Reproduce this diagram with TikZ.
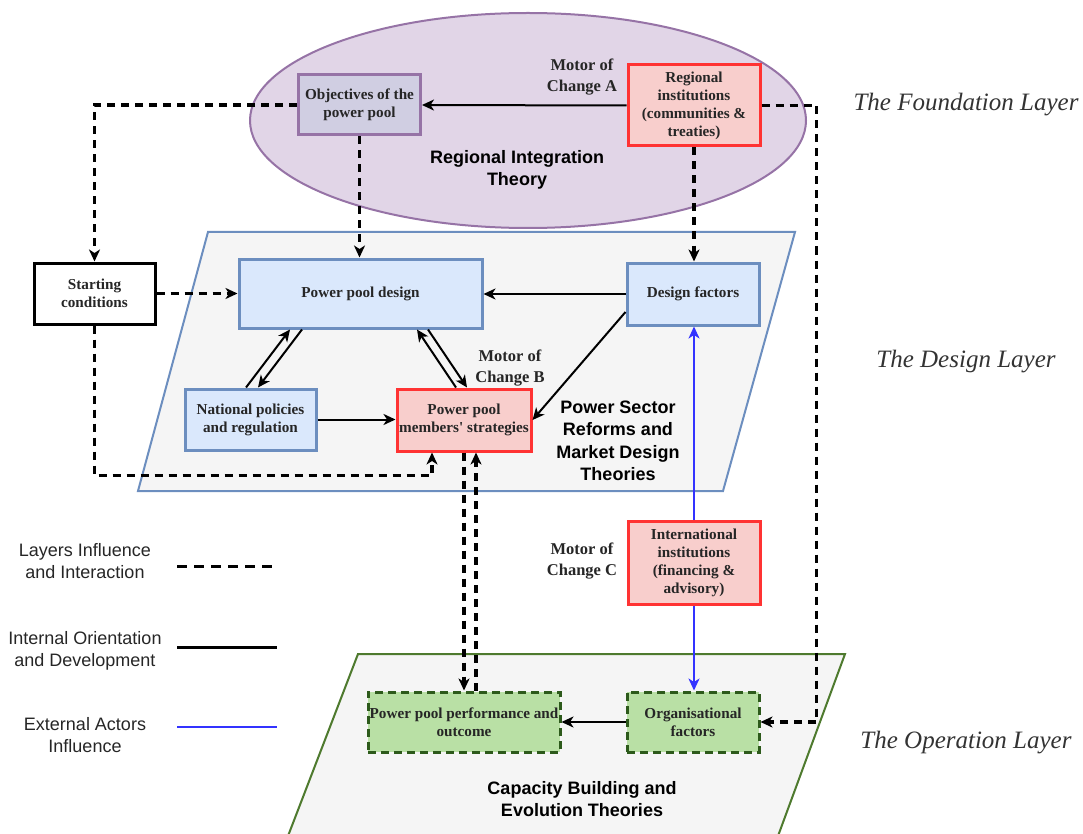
\documentclass[tikz,border=0pt]{standalone}
\usepackage{fontspec}
\setmainfont{Liberation Serif}
\setsansfont{Liberation Sans}
\usetikzlibrary{arrows.meta,calc,shapes.geometric}
\definecolor{purpfill}{HTML}{E1D5E7}
\definecolor{purpdraw}{HTML}{9673A6}
\definecolor{objfill}{HTML}{D0CEE2}
\definecolor{bluefill}{HTML}{DAE8FC}
\definecolor{bluedraw}{HTML}{6C8EBF}
\definecolor{redfill}{HTML}{F8CECC}
\definecolor{reddraw}{HTML}{FF3333}
\definecolor{greenfill}{HTML}{B9E0A5}
\definecolor{greendraw}{HTML}{2D5A1B}
\definecolor{layerfill}{HTML}{F5F5F5}
\definecolor{opdraw}{HTML}{4E7A2E}
\definecolor{extblue}{HTML}{3333FF}
\tikzset{
  box/.style={draw, line width=3pt, inner sep=1pt, align=center,
    font=\bfseries\fontsize{15.2}{18}\selectfont, text=black!85},
  bluebox/.style={box, fill=bluefill, draw=bluedraw},
  redbox/.style={box, fill=redfill, draw=reddraw},
  greenbox/.style={box, fill=greenfill, draw=greendraw, dash pattern=on 8pt off 5pt},
  conn/.style={line width=2pt, -{Stealth[length=12pt,width=11pt,inset=3.5pt]}},
  dconn/.style={conn, line width=3.2pt, dash pattern=on 8pt off 6pt},
  bconn/.style={conn, line width=1.8pt, draw=extblue, -{Stealth[length=12pt,width=11pt,inset=3.5pt,fill=extblue]}},
  theory/.style={font=\sffamily\bfseries\fontsize{18}{22.5}\selectfont, align=center},
  motor/.style={font=\bfseries\fontsize{16.5}{21.5}\selectfont, align=center, text=black!85},
  layerlab/.style={font=\itshape\fontsize{25}{30}\selectfont, text=black!80},
  legendtxt/.style={font=\sffamily\fontsize{18}{22.5}\selectfont, align=center, text=black!85},
}
\begin{document}
\begin{tikzpicture}[x=1pt,y=-1pt]
\useasboundingbox (0,0) rectangle (1083,834);
% layers
\draw[fill=purpfill, draw=purpdraw, line width=2pt] (528,120.5) ellipse [x radius=278pt, y radius=107.5pt];
\draw[fill=layerfill, draw=bluedraw, line width=2pt] (208,232) -- (795,232) -- (723,491) -- (138,491) -- cycle;
\draw[fill=layerfill, draw=opdraw, line width=2pt] (358,654) -- (845,654) -- (778,836) -- (288,836) -- cycle;

% theory labels
\node[theory] (rit) at (517,170) {Regional Integration\\Theory};
\node[theory] (psr) at (618,441) {Power Sector\\Reforms and\\Market Design\\Theories};
\node[theory] (cbe) at (582,799) {Capacity Building and\\Evolution Theories};

% layer labels
\node[layerlab] (lf) at (966,105) {The Foundation Layer};
\node[layerlab] (ld) at (966,362) {The Design Layer};
\node[layerlab] (lo) at (966,743) {The Operation Layer};

% motors
\node[motor] (ma) at (582,77) {Motor of\\Change A};
\node[motor] (mb) at (510,368) {Motor of\\Change B};
\node[motor] (mc) at (582,561) {Motor of\\Change C};

% boxes
\node[box, fill=objfill, draw=purpdraw, minimum width=122pt, minimum height=60pt] (obj) at (359.5,105) {Objectives of the\\power pool};
\node[redbox, minimum width=132pt, minimum height=81pt] (reg) at (694,105.5) {Regional\\institutions\\(communities \&\\treaties)};
\node[bluebox, minimum width=243pt, minimum height=69pt] (ppd) at (360.5,293.5) {Power pool design};
\node[bluebox, minimum width=132pt, minimum height=62pt] (df) at (693,294) {Design factors};
\node[bluebox, minimum width=131pt, minimum height=61pt] (nat) at (250.5,419.5) {National policies\\and regulation};
\node[redbox, minimum width=134pt, minimum height=62pt] (mem) at (464,420) {Power pool\\members\textquotesingle{} strategies};
\node[box, fill=white, draw=black, minimum width=121pt, minimum height=61pt] (sc) at (94.5,293.5) {Starting\\conditions};
\node[redbox, minimum width=132pt, minimum height=83pt] (intl) at (694,562.5) {International\\institutions\\(financing \&\\advisory)};
\node[greenbox, minimum width=192pt, minimum height=60pt] (perf) at (464,722) {Power pool performance and\\outcome};
\node[greenbox, minimum width=132pt, minimum height=60pt] (org) at (693,722) {Organisational\\factors};

% solid connectors
\draw[conn] (reg.west) -- (obj.east);
\draw[conn] (df.west) -- (df.west -| ppd.east);
\draw[conn] ($(df.west)+(0,18)$) -- (mem.east);
\draw[conn] (nat.east) -- (nat.east -| mem.west);
\draw[conn] (org.west) -- (org.west -| perf.east);
\draw[conn] ($(nat.north)+(-4.5,0)$) -- ($(ppd.south)+(-70.5,0)$);
\draw[conn] ($(ppd.south)+(-58.5,0)$) -- ($(nat.north)+(7.5,0)$);
\draw[conn] ($(ppd.south)+(67.5,0)$) -- ($(mem.north)+(3,0)$);
\draw[conn] ($(mem.north)+(-8,0)$) -- ($(ppd.south)+(56.5,0)$);

% dashed connectors
\draw[dconn] (obj.west) -| (sc.north);
\draw[dconn] (obj.south) -- (obj.south |- ppd.north);
\draw[dconn] (reg.south) -- (reg.south |- df.north);
\draw[dconn] (sc.east) -- (sc.east -| ppd.west);
\draw[dconn] (sc.south) |- ($(mem.south)+(-32,23)$) -- ($(mem.south)+(-32,0)$);
\draw[dconn] (mem.south) -- (perf.north);
\draw[dconn] ($(perf.north)+(12,0)$) -- ($(mem.south)+(12,0)$);
\draw[dconn] (reg.east) -- ++(55,0) |- (org.east);

% external
\draw[bconn] (intl.north) -- (intl.north |- df.south);
\draw[bconn] (intl.south) -- (intl.south |- org.north);

% legend
\node[legendtxt] (lg1) at (85,561) {Layers Influence\\and Interaction};
\node[legendtxt] (lg2) at (85,651) {Internal Orientation\\and Development};
\node[legendtxt] (lg3) at (85,735) {External Actors\\Influence};
\coordinate (l1a) at (177,566); \coordinate (l1b) at (277,566);
\coordinate (l2a) at (177,647); \coordinate (l2b) at (277,647);
\coordinate (l3a) at (177,727); \coordinate (l3b) at (277,727);
\draw[line width=3pt, dash pattern=on 10pt off 7pt] (l1a) -- (l1b);
\draw[line width=3pt] (l2a) -- (l2b);
\draw[line width=2.6pt, draw=extblue] (l3a) -- (l3b);
\end{tikzpicture}
\end{document}
